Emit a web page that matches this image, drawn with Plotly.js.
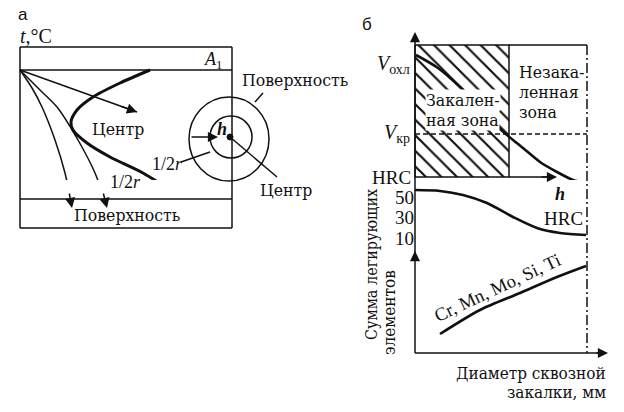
<!DOCTYPE html>
<html>
<head>
<meta charset="utf-8">
<script src="https://cdn.plot.ly/plotly-3.0.1.min.js"></script>
<style>html,body{margin:0;padding:0;background:#fff;}#chart{width:624px;height:412px;}</style>
</head>
<body>
<div id="chart"></div>
<script>
// ---------- Panel а : cooling curves (figure units) ----------
const coolCenterX = [20, 137];
const coolCenterY = [70, 112];
const coolHalfX = [20, 40, 57, 78, 95, 107];
const coolHalfY = [70, 90, 107, 140, 173, 207];
const coolSurfX = [20, 32, 42, 55, 65, 72];
const coolSurfY = [70, 88, 107, 140, 173, 207];
const ccurveX = [150, 120, 93, 77, 71, 73, 87, 110, 143, 182];
const ccurveY = [70, 83, 97, 110, 122, 130, 143, 157, 173, 198];

// ---------- Panel б : cooling rate vs depth ----------
const vCoolX = [416, 438, 460, 480, 498, 507, 523, 540, 557, 573, 586];
const vCoolY = [55, 68, 87, 107, 127, 135, 148, 162, 172, 180, 183];
// HRC vs depth (HRC units)
const hrcX = [415, 440, 463, 487, 513, 537, 560, 586];
const hrcVal = [56.8, 55.9, 52, 44.1, 30.5, 19.8, 14.9, 12.9];
const hrcTicks = [10, 30, 50];
// Sum of alloying elements vs through-hardening diameter
const alloyX = [440, 480, 520, 557, 586];
const alloyY = [334, 310, 293, 277, 266];

const SERIF = 'Liberation Serif, serif';
const CYR = 'DejaVu Serif Condensed, DejaVu Serif, serif';
const SANS = 'Liberation Sans, Arial, sans-serif';
const INK = '#111';

function line(xs, ys, w, extra) {
  return Object.assign({type: 'scatter', mode: 'lines', x: xs, y: ys,
    line: {color: INK, width: w, shape: 'spline', smoothing: 0.8},
    hoverinfo: 'skip', showlegend: false}, extra || {});
}

const traces = [
  // hatched hardened zone
  {type: 'scatter', mode: 'lines', x: [415, 509, 509, 415, 415], y: [45, 45, 177, 177, 45],
   fill: 'toself', fillcolor: 'white',
   fillpattern: {shape: '\\', size: 11, solidity: 0.2, fgcolor: INK, bgcolor: 'white'},
   line: {color: INK, width: 1.5}, hoverinfo: 'skip', showlegend: false},
  line(coolCenterX, coolCenterY, 1.5, {line: {color: INK, width: 1.5, shape: 'linear'}}),
  line(coolHalfX, coolHalfY, 1.5),
  line(coolSurfX, coolSurfY, 1.5),
  line(ccurveX, ccurveY, 3),
  line(vCoolX, vCoolY, 2.6),
  line(hrcX, hrcVal, 2.6, {yaxis: 'y2'}),
  line(alloyX, alloyY, 2.6)
];

const thin = {color: INK, width: 1.5};
const shapes = [
  // panel а frame
  {type: 'line', x0: 20, x1: 232, y0: 47, y1: 47, line: thin},
  {type: 'line', x0: 20, x1: 232, y0: 228, y1: 228, line: thin},
  {type: 'line', x0: 20, x1: 20, y0: 47, y1: 228, line: thin},
  {type: 'line', x0: 232, x1: 232, y0: 47, y1: 228, line: thin},
  {type: 'line', x0: 20, x1: 232, y0: 70, y1: 70, line: thin},
  {type: 'line', x0: 20, x1: 232, y0: 199, y1: 199, line: thin},
  // circles
  {type: 'circle', x0: 189, x1: 269, y0: 97, y1: 181, line: thin},
  {type: 'circle', x0: 210, x1: 252, y0: 116, y1: 158, line: thin},
  {type: 'circle', x0: 227, x1: 233, y0: 134, y1: 140, fillcolor: INK, line: {color: INK, width: 1}},
  {type: 'line', x0: 230, x1: 277, y0: 137, y1: 177, line: thin},
  {type: 'line', x0: 255, x1: 263, y0: 102, y1: 93, line: thin},
  {type: 'line', x0: 181, x1: 210, y0: 162, y1: 152, line: thin},
  // panel б axes and frame
  {type: 'line', x0: 415, x1: 415, y0: 353, y1: 36, line: thin},
  {type: 'line', x0: 509, x1: 587, y0: 45, y1: 45, line: thin},
  {type: 'line', x0: 587, x1: 587, y0: 45, y1: 353, line: {color: INK, width: 1.5, dash: '10px,3px,2px,3px'}},
  {type: 'line', x0: 415, x1: 587, y0: 134, y1: 134, line: {color: INK, width: 1.5, dash: '5px,3px'}},
  {type: 'line', x0: 509, x1: 550, y0: 177, y1: 177, line: thin},
  {type: 'line', x0: 415, x1: 600, y0: 353, y1: 353, line: thin}
];
shapes.forEach(s => { s.xref = 'x'; s.yref = 'y'; s.layer = 'above'; });

function arrow(x, y, ax, ay) {
  return {x: x, y: y, ax: ax, ay: ay, xref: 'x', yref: 'y', axref: 'x', ayref: 'y',
    text: '', showarrow: true, arrowhead: 2, arrowsize: 1.35, arrowwidth: 1.5,
    arrowcolor: INK, standoff: 0, startstandoff: 0};
}
function txt(t, x, y, size, opts) {
  return Object.assign({text: t, x: x, y: y, xref: 'x', yref: 'y', showarrow: false,
    font: {family: SERIF, size: size, color: INK}, xanchor: 'center', yanchor: 'middle'}, opts || {});
}
function cyr(t, x, y, size, opts) {
  const a = txt(t, x, y, size, opts);
  a.font = {family: CYR, size: size, color: INK};
  return a;
}

const annotations = [
  arrow(137, 112, 120, 106),
  arrow(107, 208, 103, 192),
  arrow(72, 208, 69, 192),
  arrow(218, 137, 190, 137),
  arrow(415, 32, 415, 44),
  arrow(415, 251, 415, 262),
  arrow(557, 177, 540, 177),
  arrow(608, 353, 595, 353),

  txt('а', 23, 14, 17, {font: {family: SANS, size: 17, color: INK}}),
  txt('<i>t</i>,°C', 18, 36, 20, {xanchor: 'left'}),
  txt('<i>A</i><sub>1</sub>', 213, 60, 18),
  cyr('Центр', 118, 129, 17.5),
  txt('1/2<i>r</i>', 125, 182, 18),
  txt('1/2<i>r</i>', 167, 164, 18),
  cyr('Поверхность', 127, 215, 17.5),
  cyr('Поверхность', 240, 80, 17.5, {xanchor: 'left'}),
  cyr('Центр', 286, 190, 17.5),
  txt('<b><i>h</i></b>', 222, 129, 18),

  txt('б', 367, 24, 17, {font: {family: SANS, size: 17, color: INK}}),
  txt('<i>V</i><sub>охл</sub>', 412, 64, 20, {xanchor: 'right'}),
  txt('<i>V</i><sub>кр</sub>', 412, 133, 20, {xanchor: 'right'}),
  txt('HRC', 413, 177, 19, {xanchor: 'right'}),
  cyr('Закален-', 463, 100, 17.5, {bgcolor: 'white', borderpad: 0}),
  cyr('ная зона', 462, 120, 17.5, {bgcolor: 'white', borderpad: 0}),
  cyr('Незака-', 517, 72, 17.5, {xanchor: 'left'}),
  cyr('ленная', 517, 92, 17.5, {xanchor: 'left'}),
  cyr('зона', 517, 112, 17.5, {xanchor: 'left'}),
  txt('<b><i>h</i></b>', 560, 194, 18),
  txt('HRC', 563, 218, 19),
  txt('Cr, Mn, Mo, Si, Ti', 497, 288, 18.5, {textangle: -25}),
  cyr('Сумма легирующих', 371, 265, 16, {textangle: -90}),
  cyr('элементов', 389, 313, 17, {textangle: -90}),
  cyr('Диаметр сквозной', 608, 373, 17, {xanchor: 'right'}),
  cyr('закалки, мм', 608, 392, 17, {xanchor: 'right'})
];

const layout = {
  width: 624, height: 412,
  margin: {l: 0, r: 0, t: 0, b: 0},
  paper_bgcolor: 'white', plot_bgcolor: 'white',
  xaxis: {range: [0, 624], visible: false, fixedrange: true},
  yaxis: {range: [412, 0], visible: false, fixedrange: true},
  yaxis2: {domain: [1 - 245 / 412, 1 - 180 / 412], range: [3.17, 66.6],
    anchor: 'free', position: 415 / 624, side: 'left',
    tickvals: hrcTicks, ticktext: hrcTicks.map(String), ticks: '',
    showline: false, showgrid: false, zeroline: false, fixedrange: true,
    ticklabelstandoff: 1,
    tickfont: {family: SERIF, size: 19, color: INK}},
  shapes: shapes,
  annotations: annotations,
  showlegend: false
};

Plotly.newPlot('chart', traces, layout, {staticPlot: true, displayModeBar: false});
</script>
</body>
</html>
